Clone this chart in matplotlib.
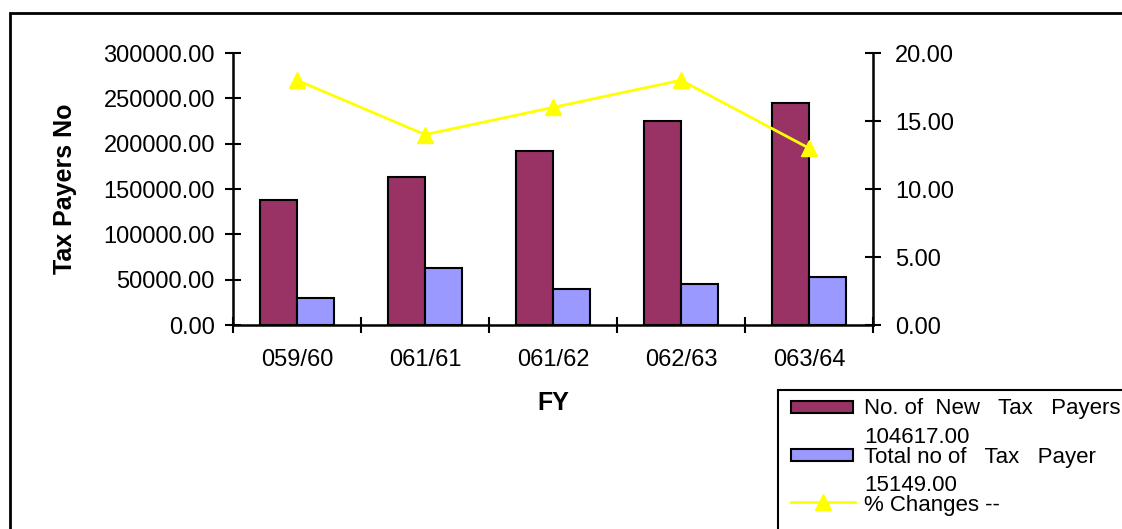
import numpy as np
import matplotlib
matplotlib.use("Agg")
import matplotlib.pyplot as plt
from matplotlib.patches import Rectangle
from matplotlib.lines import Line2D
from matplotlib.ticker import FormatStrFormatter

plt.rcParams['font.family'] = ['Liberation Sans', 'DejaVu Sans']

# fiscal years and series
years = ['059/60', '061/61', '061/62', '062/63', '063/64']
new_payers = [138000, 163000, 191500, 225000, 245000]
total_payers = [30000, 63000, 39500, 45500, 52500]
pct_change = [18, 14, 16, 18, 13]

MAROON = '#993366'
LAVENDER = '#9999FF'
YELLOW = '#FFFF00'

W, H = 1122, 529
fig = plt.figure(figsize=(W / 100, H / 100), dpi=100)
ax = fig.add_axes([233 / W, 1 - 325 / H, 640 / W, 272 / H])


def fx(px):
    return px / W


def fy(py):
    return 1 - py / H


x = np.arange(len(years))
w = 0.29
ax.bar(x - w / 2, new_payers, w, color=MAROON, edgecolor='black', linewidth=1.5, zorder=2)
ax.bar(x + w / 2, total_payers, w, color=LAVENDER, edgecolor='black', linewidth=1.5, zorder=2)

ax.set_xlim(-0.5, len(years) - 0.5)
ax.set_ylim(0, 300000)
ax.set_yticks(np.arange(0, 300001, 50000))
ax.yaxis.set_major_formatter(FormatStrFormatter('%.2f'))

# category ticks sit on the boundaries, labels in the middle
ax.set_xticks(np.arange(-0.5, len(years), 1))
ax.set_xticklabels([])
ax.set_xticks(x, minor=True)
ax.set_xticklabels(years, minor=True)
ax.tick_params(axis='x', which='major', direction='inout', length=12, width=1.5)
ax.tick_params(axis='x', which='minor', length=0, pad=17, labelsize=17)
ax.tick_params(axis='y', direction='inout', length=12, width=1.5, pad=7, labelsize=17)

for s in ['top', 'right']:
    ax.spines[s].set_visible(False)
for s in ['left', 'bottom']:
    ax.spines[s].set_linewidth(1.8)

ax.set_ylabel('Tax Payers No', fontsize=18, fontweight='bold')
ax.yaxis.label.set_va('center')
ax.yaxis.set_label_coords(-0.262, 0.5)
ax.set_xlabel('FY', fontsize=18, fontweight='bold')
ax.xaxis.label.set_va('center')
ax.xaxis.set_label_coords(0.5, -0.287)

# percentage change on the secondary axis
ax2 = ax.twinx()
ax2.plot(x, pct_change, color=YELLOW, linewidth=2, marker='^', markersize=12, zorder=3)
ax2.set_ylim(0, 20)
ax2.set_yticks(np.arange(0, 21, 5))
ax2.yaxis.set_major_formatter(FormatStrFormatter('%.2f'))
ax2.tick_params(axis='y', direction='inout', length=12, width=1.5, pad=10, labelsize=17)
for s in ['top', 'left', 'bottom']:
    ax2.spines[s].set_visible(False)
ax2.spines['right'].set_linewidth(1.8)

# outer chart border, runs off the right and bottom edges
fig.patches.append(Rectangle((fx(10), -0.5), 2, 0.5 + fy(13),
                             transform=fig.transFigure, fill=False,
                             edgecolor='black', linewidth=2))

# legend box, also cut off at the edges
fig.patches.append(Rectangle((fx(778), -0.5), 2, 0.5 + fy(390),
                             transform=fig.transFigure, fill=False,
                             edgecolor='black', linewidth=1.5))

# (colour, label, value, patch centre, label baseline, value baseline)
legend_rows = [
    (MAROON, 'No. of  New   Tax   Payers', '104617.00', 406.5, 414, 443),
    (LAVENDER, 'Total no of   Tax   Payer', '15149.00', 455, 463, 491),
]
for color, label, value, yc, yb, yv in legend_rows:
    fig.patches.append(Rectangle((fx(791), fy(yc + 6)), fx(853) - fx(791), fy(yc - 6) - fy(yc + 6),
                                 transform=fig.transFigure, facecolor=color,
                                 edgecolor='black', linewidth=1.5))
    fig.text(fx(864), fy(yb), label, fontsize=16, va='baseline', ha='left')
    fig.text(fx(864), fy(yv), value, fontsize=16, va='baseline', ha='left')

fig.lines.append(Line2D([fx(791), fx(855)], [fy(502), fy(502)], transform=fig.transFigure,
                        color=YELLOW, linewidth=2))
fig.lines.append(Line2D([fx(823)], [fy(502)], transform=fig.transFigure,
                        color=YELLOW, marker='^', markersize=12, linestyle='none'))
fig.text(fx(864), fy(511), '% Changes --', fontsize=16, va='baseline', ha='left')

fig.savefig('out.png', dpi=100)
